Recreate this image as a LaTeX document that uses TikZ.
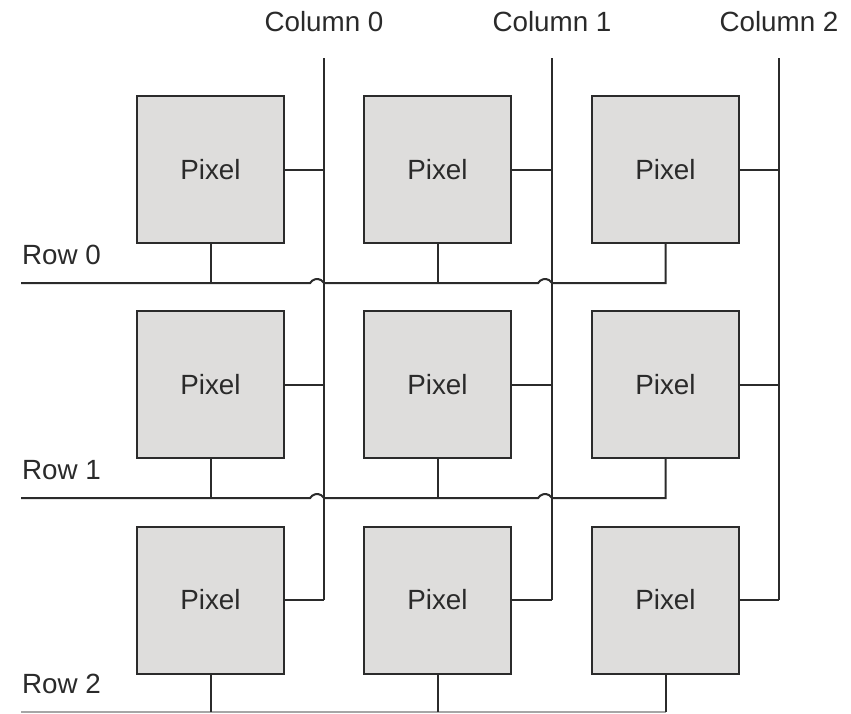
\documentclass[tikz,border=0pt]{standalone}
\usepackage{fontspec}
\setmainfont{Liberation Sans}
\definecolor{pixfill}{HTML}{DEDDDC}
\definecolor{wire}{HTML}{2B2B2B}
\definecolor{txt}{HTML}{2A2A2A}
\begin{document}
\begin{tikzpicture}[x=0.5pt,y=-0.5pt,
  line width=1pt,
  every node/.style={font=\fontsize{13.9}{16}\selectfont, text=txt},
  pixel/.style={draw=wire, fill=pixfill, minimum width=73.5pt, minimum height=73.5pt, inner sep=0pt},
  wireline/.style={draw=wire},
  label/.style={anchor=base west, inner sep=0pt}]
\useasboundingbox (0,0) rectangle (851,713);

% pixel cells
\foreach \r/\y in {0/169.5, 1/384.5, 2/600} {
  \foreach \c/\x in {0/210.5, 1/437.5, 2/665.5} {
    \node[pixel] (p\r\c) at (\x,\y) {Pixel};
  }
}

% column lines and their labels
\foreach \c/\x in {0/324, 1/552, 2/779} {
  \coordinate (ct\c) at (\x,58);
  \coordinate (cb\c) at (\x,600);
  \node (cl\c) at (\x,22) {Column \c};
  \draw[wireline] (ct\c) -- (cb\c);
}

% pixel outputs to the column lines
\foreach \r in {0,1,2} {
  \foreach \c in {0,1,2} {
    \draw[wireline] (p\r\c.east) -- (p\r\c.east -| ct\c);
  }
}

% row select lines, hopping over the column lines
\foreach \r/\y/\b in {0/283/264, 1/498/479} {
  \coordinate (rs\r) at (21,\y);
  \node[label] (rl\r) at (21,\b) {Row \r};
  \draw[wireline] (rs\r) -- ([xshift=-6.93]ct0 |- rs\r)
     arc[start angle=210, end angle=330, radius=8]
     -- ([xshift=-6.93]ct1 |- rs\r)
     arc[start angle=210, end angle=330, radius=8]
     -- (p\r2.south |- rs\r) -- (p\r2.south);
  \draw[wireline] (p\r0.south) -- (p\r0.south |- rs\r);
  \draw[wireline] (p\r1.south) -- (p\r1.south |- rs\r);
}

% last row line along the lower edge
\coordinate (rs2) at (21,712);
\node[label] (rl2) at (21,693) {Row 2};
\draw[wireline, draw=gray!70] (rs2) -- (p22.south |- rs2);
\foreach \c in {0,1,2} {
  \draw[wireline] (p2\c.south) -- (p2\c.south |- rs2);
}
\end{tikzpicture}
\end{document}
